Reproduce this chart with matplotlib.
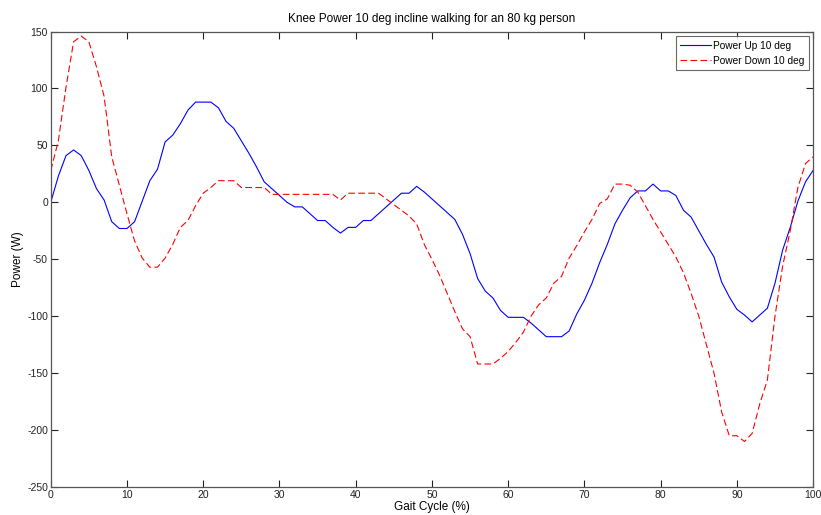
import numpy as np
import matplotlib
matplotlib.use('Agg')
import matplotlib.pyplot as plt

plt.rcParams['font.family'] = ['Liberation Sans', 'DejaVu Sans']
plt.rcParams['axes.unicode_minus'] = False

gait = np.arange(0, 101)

power_up = [0, 23, 41, 46, 41, 28, 12, 2, -17, -23,
            -23, -17, 1, 19, 29, 53, 59, 69, 81, 88,
            88, 88, 83, 71, 65, 54, 43, 31, 18, 12,
            6, 0, -4, -4, -10, -16, -16, -22, -27, -22,
            -22, -16, -16, -10, -4, 2, 8, 8, 14, 9,
            3, -3, -9, -15, -28, -45, -67, -78, -84, -95,
            -101, -101, -101, -106, -112, -118, -118, -118, -113, -98,
            -86, -71, -53, -37, -19, -7, 4, 10, 10, 16,
            10, 10, 6, -7, -13, -25, -37, -48, -70, -83,
            -94, -99, -105, -99, -93, -71, -42, -22, 1, 18,
            28]

power_down = [28, 54, 101, 141, 146, 141, 119, 93, 40, 15,
              -10, -34, -49, -57, -57, -49, -37, -22, -16, -3,
              8, 13, 19, 19, 19, 13, 13, 13, 13, 7,
              7, 7, 7, 7, 7, 7, 7, 7, 2, 8,
              8, 8, 8, 8, 3, -2, -7, -12, -19, -37,
              -50, -64, -80, -96, -111, -118, -142, -142, -142, -137,
              -131, -123, -114, -100, -90, -84, -71, -65, -49, -38,
              -26, -15, -1, 3, 16, 16, 15, 9, -3, -15,
              -26, -37, -48, -62, -80, -100, -125, -150, -184, -205,
              -205, -210, -203, -177, -156, -100, -56, -25, 13, 34,
              40]

fig = plt.figure(figsize=(8.21, 5.15), dpi=100)
ax = fig.add_axes([0.0618, 0.0544, 0.9286, 0.8844])

ax.plot(gait, power_up, color='#0000ff', lw=0.8, label='Power Up 10 deg')
ax.plot(gait, power_down, color='#ff0000', lw=0.8, ls=(0, (6, 3)),
        label='Power Down 10 deg')

ax.set_xlim(0, 100)
ax.set_ylim(-250, 150)
ax.set_xticks(np.arange(0, 101, 10))
ax.set_yticks(np.arange(-250, 151, 50))
ax.tick_params(direction='in', length=5, width=0.8, labelsize=7.5,
               top=True, right=True, colors='#222222', pad=2)
for s in ax.spines.values():
    s.set_color('#555555')
    s.set_linewidth(0.9)

ax.set_title('Knee Power 10 deg incline walking for an 80 kg person',
             fontsize=8.5, pad=7)
ax.set_xlabel('Gait Cycle (%)', fontsize=8.5, labelpad=1)
ax.set_ylabel('Power (W)', fontsize=8.5, labelpad=2)

leg = ax.legend(loc='upper right', fontsize=7.3, frameon=True, fancybox=False,
                edgecolor='#444444', borderaxespad=0.45, handlelength=3.0,
                borderpad=0.45, labelspacing=0.5, handletextpad=0.2)
leg.get_frame().set_linewidth(0.8)

fig.savefig('out.png', dpi=100)
